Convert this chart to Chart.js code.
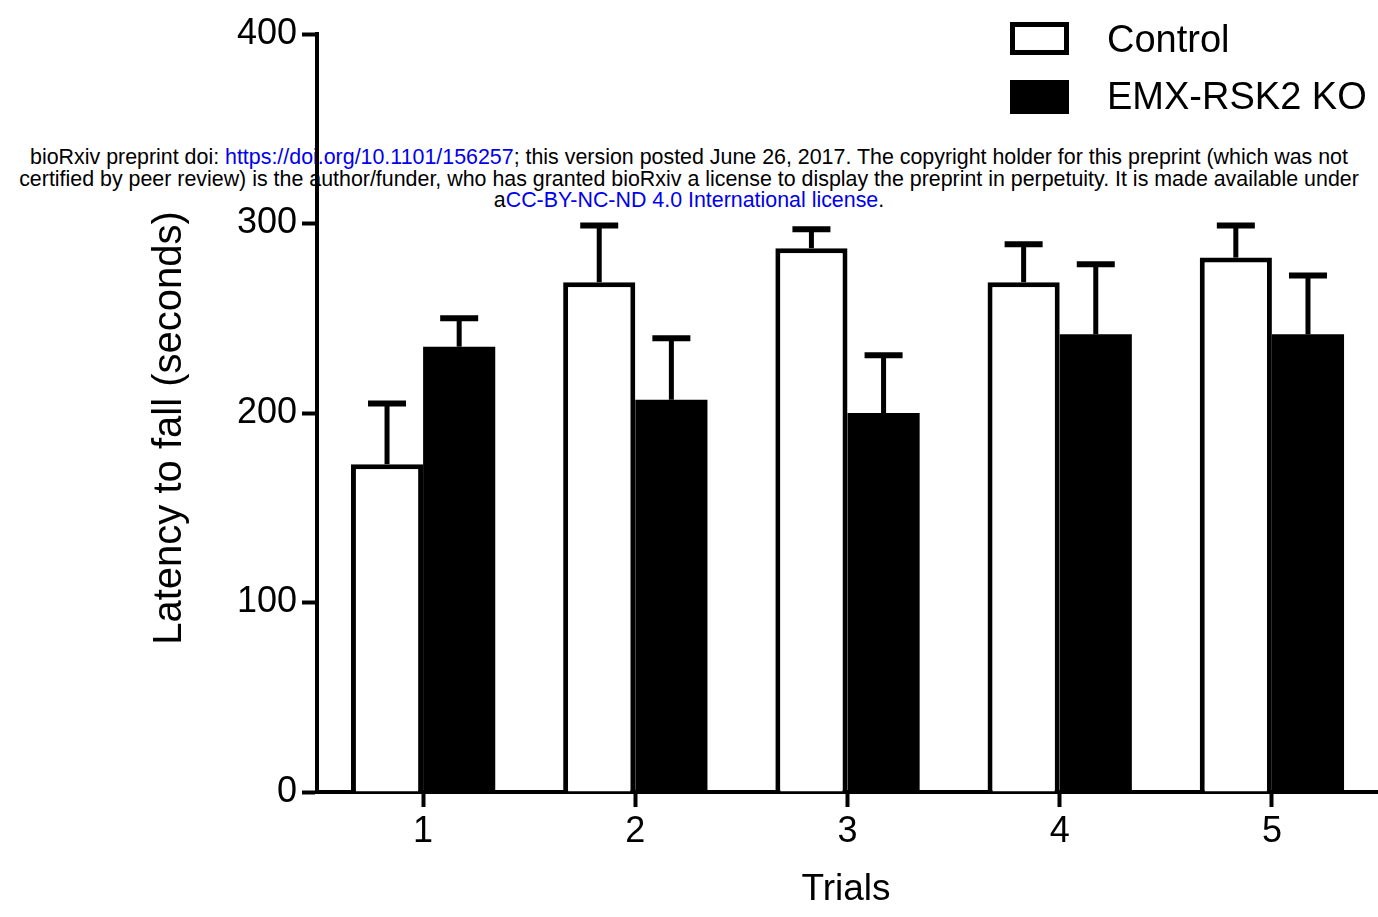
<!DOCTYPE html>
<html>
<head>
<meta charset="utf-8">
<title>Latency to fall</title>
<script src="https://cdn.jsdelivr.net/npm/chart.js@4.4.1/dist/chart.umd.min.js"></script>
<style>
    html, body { margin: 0; padding: 0; background: #fff; }
    body { width: 1378px; height: 917px; position: relative; overflow: hidden; font-family: 'Liberation Sans', Arial, sans-serif; }
    #chart { position: absolute; left: 0; top: 0; z-index: 2; }
    .notice {
        position: absolute; left: 0; top: 147px; width: 1378px; z-index: 1;
        text-align: center; font-size: 21.4px; line-height: 21.5px; color: #000; white-space: nowrap;
    }
    .notice span { color: #0000ee; }
    .legend-box { position: absolute; left: 1010px; width: 59px; box-sizing: border-box; z-index: 3; }
    .legend-text { position: absolute; left: 1107px; font-size: 38px; line-height: 44px; color: #000; white-space: nowrap; z-index: 3; }
</style>
</head>
<body>
<div class="notice">
    bioRxiv preprint doi: <span>https://doi.org/10.1101/156257</span>; this version posted June 26, 2017. The copyright holder for this preprint (which was not<br>
    certified by peer review) is the author/funder, who has granted bioRxiv a license to display the preprint in perpetuity. It is made available under<br>
    a<span>CC-BY-NC-ND 4.0 International license</span>.
</div>
<canvas id="chart" width="1378" height="917"></canvas>
<div class="legend-box" style="top:22px;height:33px;border:5px solid #000;background:#fff;"></div>
<div class="legend-text" style="top:17px;">Control</div>
<div class="legend-box" style="top:80px;height:34px;background:#000;"></div>
<div class="legend-text" style="top:74px;">EMX-RSK2 KO</div>

<script>
// Rotarod latency per trial, mean with SEM (upper error bar only)
const trials = ['1', '2', '3', '4', '5'];
const controlMeans = [173, 269, 287, 269, 282];
const controlSem = [32, 30, 10, 20, 17];
const koMeans = [235, 207, 200, 241.5, 241.5];
const koSem = [15, 32.5, 30.5, 37, 31];
const yTicks = [0, 100, 200, 300, 400];

Chart.defaults.font.family = "'Liberation Sans', Arial, sans-serif";
Chart.defaults.color = '#000';

// draws the upward SEM whisker with a cap on each bar
const errorBars = {
    id: 'errorBars',
    afterDatasetsDraw(chart) {
        const ctx = chart.ctx;
        const yScale = chart.scales.y;
        chart.data.datasets.forEach((ds, i) => {
            const meta = chart.getDatasetMeta(i);
            meta.data.forEach((bar, j) => {
                const top = yScale.getPixelForValue(ds.data[j] + ds.errors[j]);
                ctx.save();
                ctx.strokeStyle = '#000';
                ctx.lineCap = 'butt';
                ctx.lineWidth = 5;
                ctx.beginPath();
                ctx.moveTo(bar.x, bar.y);
                ctx.lineTo(bar.x, top);
                ctx.stroke();
                ctx.lineWidth = 6;
                ctx.beginPath();
                ctx.moveTo(bar.x - 19, top);
                ctx.lineTo(bar.x + 19, top);
                ctx.stroke();
                ctx.restore();
            });
        });
    }
};

const axisTitles = {
    id: 'axisTitles',
    afterDraw(chart) {
        const ctx = chart.ctx;
        ctx.save();
        ctx.fillStyle = '#000';
        ctx.textAlign = 'center';
        ctx.textBaseline = 'middle';
        ctx.font = "37px 'Liberation Sans', Arial, sans-serif";
        ctx.fillText('Trials', 846, 890);
        ctx.translate(170, 428);
        ctx.rotate(-Math.PI / 2);
        ctx.font = "40px 'Liberation Sans', Arial, sans-serif";
        ctx.fillText('Latency to fall (seconds)', 0, 0);
        ctx.restore();
    }
};

const ctx = document.getElementById('chart');

new Chart(ctx, {
    type: 'bar',
    data: {
        labels: trials,
        datasets: [{
            label: 'Control',
            data: controlMeans,
            errors: controlSem,
            backgroundColor: '#fff',
            borderColor: '#000',
            borderWidth: 5,
            borderSkipped: 'bottom'
        }, {
            label: 'EMX-RSK2 KO',
            data: koMeans,
            errors: koSem,
            backgroundColor: '#000',
            borderColor: '#000',
            borderWidth: 0
        }]
    },
    options: {
        responsive: false,
        animation: false,
        devicePixelRatio: 1,
        layout: {
            padding: { top: 34, right: 0, bottom: 0, left: 0 }
        },
        plugins: {
            legend: { display: false },
            tooltip: { enabled: false }
        },
        datasets: {
            bar: {
                categoryPercentage: 0.68,
                barPercentage: 1.0
            }
        },
        scales: {
            x: {
                offset: true,
                grid: {
                    offset: false,
                    drawOnChartArea: false,
                    tickLength: 15,
                    tickWidth: 4,
                    color: '#000'
                },
                border: { color: '#000', width: 4 },
                ticks: {
                    font: { size: 36 },
                    color: '#000',
                    padding: 3
                },
                afterFit: (scale) => { scale.height = 125; }
            },
            y: {
                min: 0,
                max: 400,
                afterBuildTicks: (scale) => { scale.ticks = yTicks.map(v => ({ value: v })); },
                grid: {
                    drawOnChartArea: false,
                    tickLength: 15,
                    tickWidth: 4,
                    color: '#000'
                },
                border: { color: '#000', width: 4 },
                ticks: {
                    font: { size: 36 },
                    color: '#000',
                    padding: 5
                },
                afterFit: (scale) => { scale.width = 317; }
            }
        }
    },
    plugins: [errorBars, axisTitles]
});
</script>
</body>
</html>
